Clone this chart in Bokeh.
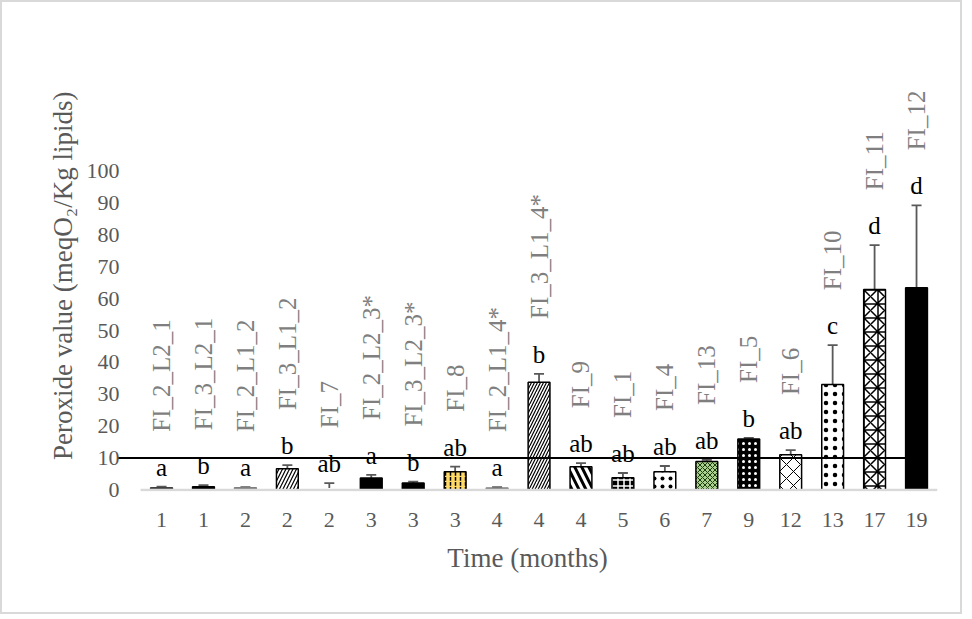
import math
from bokeh.plotting import figure
from bokeh.models import ColumnDataSource, FixedTicker, Whisker, TeeHead, Title, Range1d
from bokeh.core.properties import value
from bokeh.embed import file_html
from bokeh.resources import INLINE

# ---------------- data ----------------
samples = ["FI_2_L2_1", "FI_3_L2_1", "FI_2_L1_2", "FI_3_L1_2", "FI_7", "FI_2_L2_3*",
           "FI_3_L2_3*", "FI_8", "FI_2_L1_4*", "FI_3_L1_4*", "FI_9", "FI_1", "FI_4",
           "FI_13", "FI_5", "FI_6", "FI_10", "FI_11", "FI_12"]
months = [1, 1, 2, 2, 2, 3, 3, 3, 4, 4, 4, 5, 6, 7, 9, 12, 13, 17, 19]
peroxide = [0.7, 1.0, 0.7, 6.6, 0.4, 3.7, 2.2, 5.7, 0.6, 33.8, 7.3, 3.8, 5.7,
            8.9, 16.0, 11.0, 33.1, 62.9, 63.4]
sd = [0.3, 0.5, 0.2, 1.2, 1.7, 1.0, 0.4, 1.6, 0.3, 2.6, 1.1, 1.5, 1.8,
      0.5, 0.3, 1.5, 12.3, 13.9, 25.9]
letters = ["a", "b", "a", "b", "ab", "a", "b", "ab", "a", "b", "ab", "ab", "ab",
           "ab", "b", "ab", "c", "d", "d"]
limit_value = 10
y_ticks = [0, 10, 20, 30, 40, 50, 60, 70, 80, 90, 100]

# ---------------- styles ----------------
fills = ["#404040", "black", "#7f7f7f", "white", "white", "black", "black", "#ffd966",
         "#7f7f7f", "white", "white", "black", "white", "#a9d18e", "black", "white",
         "white", "white", "black"]
lines = ["#404040", "black", "#7f7f7f", "black", "white", "black", "black", "black",
         "#7f7f7f", "black", "black", "black", "black", "black", "black", "black",
         "black", "black", "black"]
hatches = ["blank", "blank", "blank", "right_diagonal_line", "blank", "blank", "blank",
           "vertical_dash", "blank", "right_diagonal_line", "left_diagonal_line", "cross",
           "dot", "diagonal_cross", "dot", "diagonal_cross", "dot", "criss_cross", "blank"]
hatch_colors = ["black", "black", "black", "black", "black", "black", "black", "black",
                "black", "black", "black", "white", "black", "#1f3b10", "white", "black",
                "black", "black", "black"]
hatch_scales = [6, 6, 6, 7, 6, 6, 6, 5, 6, 6, 14, 6, 8, 5, 6, 14, 9, 14, 6]
hatch_weights = [1, 1, 1, 1.2, 1, 1, 1, 1.5, 1, 1.2, 3, 1.5, 1.5, 1, 2.5, 1, 4, 1.5, 1]

GRAY = "#595959"
FONT = "Liberation Serif"
BAR_W = 0.52

n = len(samples)
xs = list(range(1, n + 1))
tops = [v + e for v, e in zip(peroxide, sd)]
lows = [max(v - e, 0) for v, e in zip(peroxide, sd)]

src = ColumnDataSource(dict(x=xs, v=peroxide, top=tops, low=lows, s=samples, let=letters,
                            fill=fills, line=lines, hp=hatches, hc=hatch_colors,
                            hs=hatch_scales, hw=hatch_weights))

p = figure(width=962, height=614, output_backend="svg", toolbar_location=None,
           x_range=Range1d(-0.05, n + 0.5), y_range=Range1d(-0.5, 125),
           min_border_left=115, min_border_right=27, min_border_top=89,
           min_border_bottom=125, outline_line_color=None)
p.styles = {"border": "2px solid #d9d9d9"}
p.xgrid.visible = False
p.ygrid.visible = False

p.vbar(x="x", top="v", bottom=0, width=BAR_W, source=src, fill_color="fill",
       line_color="line", line_width=1.5, hatch_pattern="hp", hatch_color="hc",
       hatch_scale="hs", hatch_weight="hw")

# baseline (category axis line)
p.segment(x0=[0.5], y0=[0], x1=[n + 0.5], y1=[0], line_color="#d9d9d9", line_width=2.5)

# limit line
p.line(x=[p.x_range.start, n - BAR_W / 2], y=[limit_value, limit_value],
       line_color="black", line_width=2)

err = Whisker(base="x", upper="top", lower="low", source=src, line_color=GRAY,
              line_width=1.8,
              upper_head=TeeHead(size=10, line_color=GRAY, line_width=1.8),
              lower_head=TeeHead(size=10, line_color=GRAY, line_width=1.8))
p.add_layout(err)

p.text(x="x", y="top", text="let", source=src, y_offset=-6, text_align="center",
       text_baseline="bottom", text_font=value(FONT), text_font_size="25px",
       text_color="black")
p.text(x="x", y="top", text="s", source=src, y_offset=-55, angle=math.pi / 2,
       text_align="left", text_baseline="middle", text_font=value(FONT),
       text_font_size="25px", text_color="#7f7f7f")

# axes
p.xaxis.ticker = FixedTicker(ticks=xs)
p.xaxis.major_label_overrides = {x: str(m) for x, m in zip(xs, months)}
p.xaxis.axis_line_color = None
p.xaxis.major_tick_line_color = None
p.xaxis.minor_tick_line_color = None
p.xaxis.major_label_text_font = FONT
p.xaxis.major_label_text_font_size = "22px"
p.xaxis.major_label_text_color = GRAY
p.xaxis.major_label_standoff = 15
p.xaxis.axis_label = "Time (months)"
p.xaxis.axis_label_text_font = FONT
p.xaxis.axis_label_text_font_size = "27px"
p.xaxis.axis_label_text_font_style = "normal"
p.xaxis.axis_label_text_color = GRAY
p.xaxis.axis_label_standoff = 13

p.yaxis.ticker = FixedTicker(ticks=y_ticks)
p.yaxis.axis_line_color = None
p.yaxis.major_tick_line_color = None
p.yaxis.minor_tick_line_color = None
p.yaxis.major_label_text_font = FONT
p.yaxis.major_label_text_font_size = "22px"
p.yaxis.major_label_text_color = GRAY
p.yaxis.major_label_standoff = -8

ytitle = Title(text="Peroxide value (meqO\u2082/Kg lipids)", align="right", offset=0,
               text_font=FONT, text_font_size="27px", text_font_style="normal",
               text_color=GRAY, standoff=12)
p.add_layout(ytitle, "left")

open("out.html", "w").write(file_html(p, INLINE))
